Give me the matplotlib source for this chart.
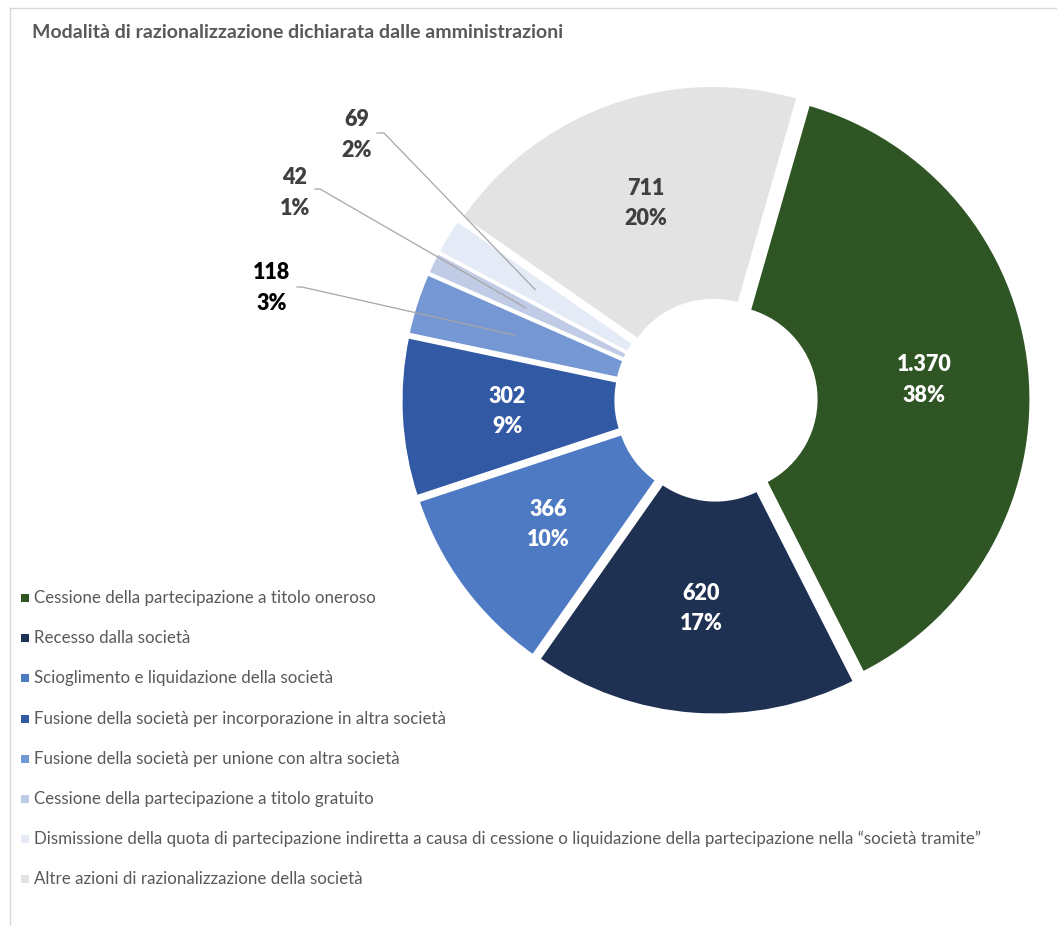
import numpy as np
import matplotlib.pyplot as plt
from matplotlib.patches import Rectangle
from matplotlib.lines import Line2D

# dati
categorie = [
    "Cessione della partecipazione a titolo oneroso",
    "Recesso dalla società",
    "Scioglimento e liquidazione della società",
    "Fusione della società per incorporazione in altra società",
    "Fusione della società per unione con altra società",
    "Cessione della partecipazione a titolo gratuito",
    "Dismissione della quota di partecipazione indiretta a causa di cessione o liquidazione della partecipazione nella \u201csocietà tramite\u201d",
    "Altre azioni di razionalizzazione della società",
]
valori = [1370, 620, 366, 302, 118, 42, 69, 711]
etichette_valori = ["1.370", "620", "366", "302", "118", "42", "69", "711"]
percentuali = ["38%", "17%", "10%", "9%", "3%", "1%", "2%", "20%"]
colori = ["#2E5523", "#1F3153", "#4E79C3", "#3159A4", "#7597D3",
          "#C0CBE6", "#E5EBF6", "#E3E3E3"]
colori_testo = ["white", "white", "white", "white", "black",
                "#404040", "#404040", "#404040"]

W, H = 1057, 926
CX, CY = 716, 400      # centro in pixel
S = 307.0              # pixel per unità

plt.rcParams['font.family'] = ['Lato', 'DejaVu Sans']

fig = plt.figure(figsize=(W / 100, H / 100), dpi=100)
ax = fig.add_axes([0, 0, 1, 1])

explode = [0.026] * len(valori)
wedges, _ = ax.pie(valori, startangle=74, counterclock=False, radius=1.0,
                   colors=colori, explode=explode,
                   wedgeprops=dict(width=0.70, edgecolor="white", linewidth=2.2))

ax.set_xlim(-CX / S, (W - CX) / S)
ax.set_ylim(-(H - CY) / S, CY / S)
ax.set_aspect('auto')
ax.axis('off')


def px(x, y):
    return (x - CX) / S, (CY - y) / S


# etichette
esterni = {4: (272, 288, 297, 302, 287),
           5: (295, 193, 315, 320, 189),
           6: (357, 135, 377, 384, 133)}
for i, w in enumerate(wedges):
    mid = np.deg2rad((w.theta1 + w.theta2) / 2)
    testo = etichette_valori[i] + "\n" + percentuali[i]
    if i in esterni:
        tx, ty, sx0, sx1, sy = esterni[i]
        ex, ey = 0.69 * np.cos(mid), 0.69 * np.sin(mid)
        a0 = px(sx0, sy)
        a1 = px(sx1, sy)
        ax.add_line(Line2D([a0[0], a1[0], ex], [a0[1], a1[1], ey],
                           color="#A6A6A6", lw=0.9))
        x, y = px(tx, ty)
    else:
        x, y = 0.68 * np.cos(mid), 0.68 * np.sin(mid)
    ax.text(x, y, testo, ha="center", va="center", fontsize=15.5,
            fontweight="heavy", color=colori_testo[i], linespacing=1.55)

# titolo
fig.text(32 / W, 1 - 32 / H, "Modalità di razionalizzazione dichiarata dalle amministrazioni",
         fontsize=14, fontweight="bold", color="#595959", va="center", ha="left")

# legenda
for i, (lab, col) in enumerate(zip(categorie, colori)):
    yc = 598 + 40.2 * i
    fig.patches.append(Rectangle((21 / W, 1 - (yc + 4) / H), 8 / W, 8 / H,
                                 transform=fig.transFigure, facecolor=col,
                                 edgecolor="none"))
    fig.text(34 / W, 1 - yc / H, lab, fontsize=12.2, color="#595959",
             va="center", ha="left")

# bordo area grafico
fig.add_artist(Line2D([10 / W, 10 / W], [0, 1 - 8 / H], transform=fig.transFigure,
                      color="#D9D9D9", lw=1))
fig.add_artist(Line2D([10 / W, 1], [1 - 8 / H, 1 - 8 / H], transform=fig.transFigure,
                      color="#D9D9D9", lw=1))

fig.savefig("out.png", dpi=100)
